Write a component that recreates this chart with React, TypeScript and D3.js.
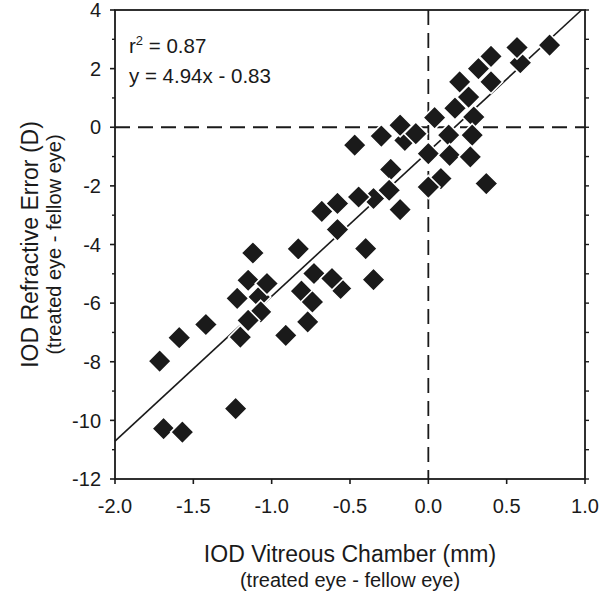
import React from "react";
import * as d3 from "d3";

// IOD Vitreous Chamber (mm) vs IOD Refractive Error (D)
const vitreousX = [
  -1.08, -1.07, -0.15, -0.35, -0.56, 0.587, 0.17, 0.08, -0.68,
  -1.12, -1.15, -1.03, -1.22, -1.15, -1.20, -0.91, -1.42, -1.59, -1.715, -1.23, -1.69, -1.57,
  -0.47, -0.30, -0.18, -0.08, 0.0, -0.24, -0.25, -0.18, 0.0, -0.445, -0.58,
  -0.58, -0.83, -0.40, -0.35, -0.73, -0.615, -0.81, -0.74, -0.77,
  0.774, 0.566, 0.40, 0.32, 0.40, 0.20, 0.257, 0.29, 0.04, 0.28, 0.13, 0.136, 0.268, 0.37,
];
const refractiveY = [
  -5.79, -6.30, -0.45, -2.43, -5.5, 2.2, 0.65, -1.75, -2.87,
  -4.29, -5.22, -5.33, -5.84, -6.59, -7.16, -7.10, -6.73, -7.18, -7.98, -9.60, -10.28, -10.40,
  -0.61, -0.30, 0.07, -0.22, -0.90, -1.44, -2.15, -2.81, -2.04, -2.38, -2.60,
  -3.49, -4.15, -4.14, -5.20, -4.99, -5.16, -5.59, -5.96, -6.64,
  2.80, 2.72, 2.42, 2.00, 1.55, 1.55, 1.03, 0.35, 0.33, -0.27, -0.27, -0.96, -1.01, -1.92,
];
const points = vitreousX.map((x, i) => ({ x, y: refractiveY[i] }));

const slope = 4.94;
const intercept = -0.83;

const xTicks = [-2.0, -1.5, -1.0, -0.5, 0.0, 0.5, 1.0];
const yTicks = [4, 2, 0, -2, -4, -6, -8, -10, -12];
const yMinorTicks = [3, 1, -1, -3, -5, -7, -9, -11];

const FONT = "'Liberation Sans', Arial, sans-serif";
const INK = "#1a1a1a";

export default function App() {
  const W = 600, H = 593;
  const left = 115, right = 585, top = 10, bottom = 479;
  const x = d3.scaleLinear().domain([-2, 1]).range([left, right]);
  const y = d3.scaleLinear().domain([-12, 4]).range([bottom, top]);

  const xEnd = (4 - intercept) / slope;
  const regLine = d3.line<number>()
    .x((d) => x(d))
    .y((d) => y(slope * d + intercept))([-2, xEnd]);

  const s = 16.5;
  const diamond = `M0,${-s / Math.SQRT2}L${s / Math.SQRT2},0L0,${s / Math.SQRT2}L${-s / Math.SQRT2},0Z`;

  return (
    <svg width={W} height={H} style={{ position: "absolute", left: 0, top: 0, background: "#fff" }}>
      <rect x={0} y={0} width={W} height={H} fill="#fff" />
      {/* reference lines */}
      <line x1={x(0)} x2={x(0)} y1={top} y2={bottom} stroke={INK} strokeWidth={1.8} strokeDasharray="15 8" />
      <line x1={left} x2={right} y1={y(0)} y2={y(0)} stroke={INK} strokeWidth={1.8} strokeDasharray="15 8" />
      <path d={regLine || ""} fill="none" stroke={INK} strokeWidth={1.6} />
      {/* points */}
      {points.map((p, i) => (
        <path key={i} d={diamond} transform={`translate(${x(p.x)},${y(p.y)})`} fill={INK} stroke="#fff" strokeWidth={1.6} />
      ))}
      {/* frame */}
      <rect x={left} y={top} width={right - left} height={bottom - top} fill="none" stroke={INK} strokeWidth={1.8} />
      {/* left axis ticks */}
      {yTicks.map((t) => (
        <g key={"yt" + t}>
          <line x1={left - 5} x2={left} y1={y(t)} y2={y(t)} stroke={INK} strokeWidth={1.6} />
          <text x={left - 14} y={y(t)} dy="0.36em" textAnchor="end" fontFamily={FONT} fontSize={20} fill={INK}>{String(t)}</text>
        </g>
      ))}
      {yMinorTicks.map((t) => (
        <line key={"ym" + t} x1={left - 3} x2={left} y1={y(t)} y2={y(t)} stroke={INK} strokeWidth={1.4} />
      ))}
      {/* right axis ticks */}
      {[...yTicks, ...yMinorTicks].map((t) => (
        <line key={"yr" + t} x1={right} x2={right + 4} y1={y(t)} y2={y(t)} stroke={INK} strokeWidth={1.4} />
      ))}
      {/* bottom axis ticks */}
      {xTicks.map((t) => (
        <g key={"xt" + t}>
          <line x1={x(t)} x2={x(t)} y1={bottom} y2={bottom + 5} stroke={INK} strokeWidth={1.6} />
          <text x={x(t)} y={bottom + 34} textAnchor="middle" fontFamily={FONT} fontSize={20} fill={INK}>{t.toFixed(1)}</text>
        </g>
      ))}
      {/* annotations */}
      <text x={129} y={53} fontFamily={FONT} fontSize={20.5} fill={INK}>
        r<tspan dy={-8} fontSize={13}>2</tspan><tspan dy={8}> = 0.87</tspan>
      </text>
      <text x={129} y={83} fontFamily={FONT} fontSize={20.5} fill={INK}>y = 4.94x - 0.83</text>
      {/* axis titles */}
      <text x={(left + right) / 2} y={562} textAnchor="middle" fontFamily={FONT} fontSize={23} fill={INK}>IOD Vitreous Chamber (mm)</text>
      <text x={(left + right) / 2} y={587} textAnchor="middle" fontFamily={FONT} fontSize={20} fill={INK}>(treated eye - fellow eye)</text>
      <g transform={`translate(38,${(top + bottom) / 2}) rotate(-90)`}>
        <text x={0} y={0} textAnchor="middle" fontFamily={FONT} fontSize={23} fill={INK}>IOD Refractive Error (D)</text>
      </g>
      <g transform={`translate(61,${(top + bottom) / 2}) rotate(-90)`}>
        <text x={0} y={0} textAnchor="middle" fontFamily={FONT} fontSize={20} fill={INK}>(treated eye - fellow eye)</text>
      </g>
    </svg>
  );
}
